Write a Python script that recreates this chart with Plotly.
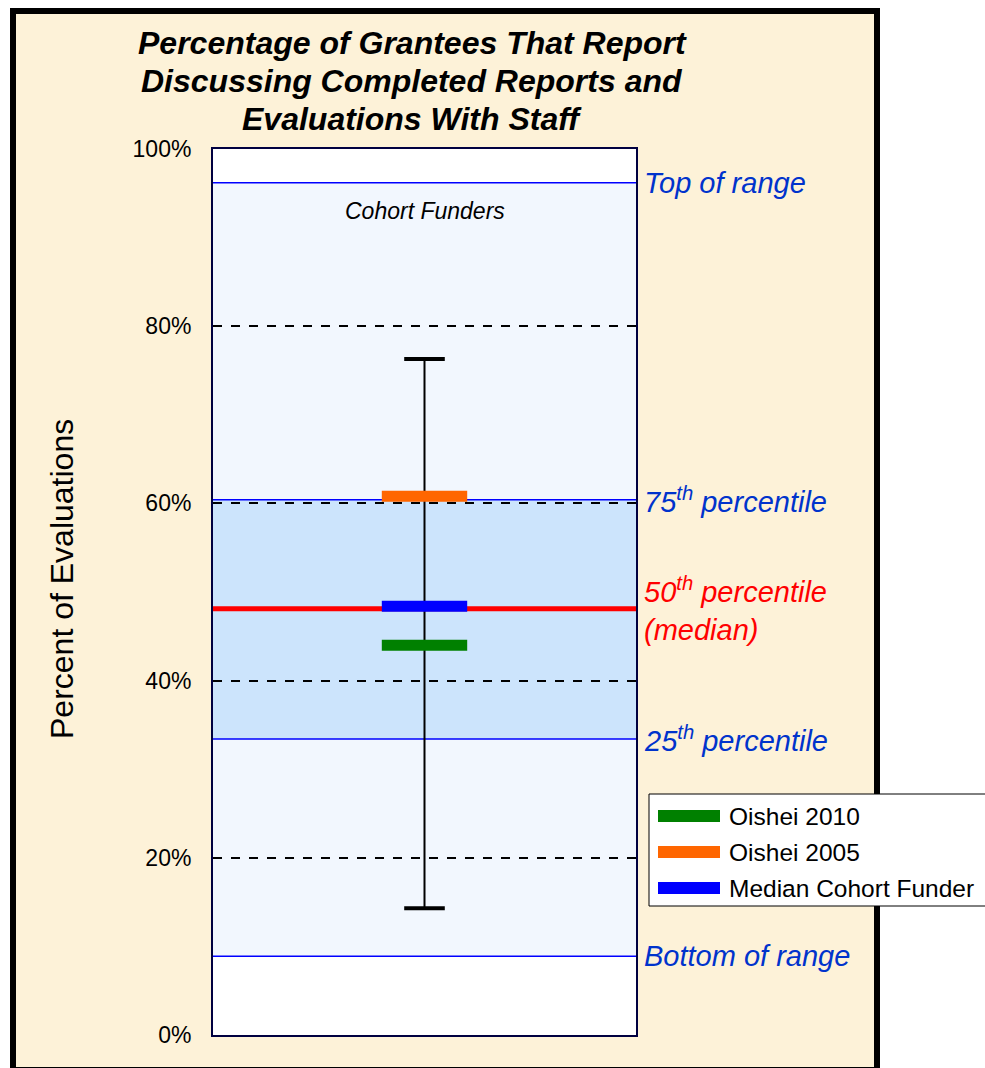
import plotly.graph_objects as go

# ============================================================
# Data (percent of evaluations)
# ============================================================

range_labels = ["Bottom of range", "25<sup>th</sup> percentile", "50<sup>th</sup> percentile<br>(median)",
                "75<sup>th</sup> percentile", "Top of range"]
range_values = [8.9, 33.4, 48.1, 60.4, 96.2]

series_names = ["Oishei 2010", "Oishei 2005", "Median Cohort Funder"]
series_values = [44.0, 60.8, 48.4]
series_colors = ["#008000", "#FF6600", "#0000FF"]

spread_low = 14.3
spread_high = 76.3

y_ticks = [0, 20, 40, 60, 80, 100]
y_ticktext = [f"{v}%" for v in y_ticks]

title_lines = ["Percentage of Grantees That Report", "Discussing Completed Reports and",
               "Evaluations With Staff"]

# ============================================================
# Layout geometry (pixels of the 985 x 1068 window)
# ============================================================

W, H = 985, 1068
PL, PR, PT, PB = 213, 636, 149, 1035   # plot area edges
FONT = "Liberation Sans, Arial, sans-serif"
LABEL_BLUE = "#0033CC"


def px_x(px):
    return (px - PL) / (PR - PL)


def px_y(py):
    return (PB - py) / (PB - PT)


fig = go.Figure()

# outer beige frame and white plot area (drawn first, underneath everything)
fig.add_shape(type="rect", xref="paper", yref="paper",
              x0=px_x(13), x1=px_x(877), y0=px_y(1070), y1=px_y(11),
              fillcolor="#FDF2D8", line=dict(color="black", width=6), layer="below")
fig.add_shape(type="rect", xref="paper", yref="paper", x0=0, x1=1, y0=0, y1=1,
              fillcolor="white", line_width=0, layer="below")

# band fills between range lines
bottom, p25, med, p75, top = range_values
for y0, y1, color in ((bottom, p25, "#F2F7FE"), (p25, p75, "#CCE4FC"), (p75, top, "#F2F7FE")):
    fig.add_shape(type="rect", xref="x domain", yref="y", x0=0, x1=1, y0=y0, y1=y1,
                  fillcolor=color, line_width=0, layer="below")

# range lines (as traces so the funder marks sit on top) + right-hand labels
for label, value in zip(range_labels, range_values):
    is_median = value == med
    fig.add_trace(go.Scatter(
        x=[-1, 1], y=[value, value], mode="lines", cliponaxis=False,
        line=dict(color="#FF0000" if is_median else "#0000FF", width=5 if is_median else 1.5),
        hoverinfo="skip", showlegend=False,
    ))
    fig.add_annotation(
        x=1, xref="paper", y=value, yref="y", xanchor="left", yanchor="middle", xshift=6,
        text=f"<i>{label}</i>", showarrow=False, align="left",
        font=dict(family=FONT, size=29, color="#FF0000" if is_median else LABEL_BLUE),
    )

# spread of cohort funders (whisker)
fig.add_trace(go.Scatter(
    x=[0, 0], y=[spread_low, spread_high], mode="lines",
    line=dict(color="black", width=2), hoverinfo="skip", showlegend=False,
))
fig.add_trace(go.Scatter(
    x=[0, 0], y=[spread_low, spread_high], mode="markers",
    marker=dict(symbol="line-ew", size=29, line=dict(color="black", width=4)),
    hoverinfo="skip", showlegend=False,
))

# funder markers
for name, value, color in zip(series_names, series_values, series_colors):
    fig.add_trace(go.Scatter(
        x=[0], y=[value], mode="markers", name=name,
        marker=dict(symbol="line-ew", size=61, line=dict(color=color, width=11)),
        showlegend=False,
    ))

# legend box drawn by hand (runs off the page, as in the original)
fig.add_shape(type="rect", xref="paper", yref="paper",
              x0=px_x(649), x1=px_x(1020), y0=px_y(906), y1=px_y(794),
              fillcolor="white", line=dict(color="black", width=1), layer="above")
for i, (name, color) in enumerate(zip(series_names, series_colors)):
    cy = 816 + i * 36
    fig.add_shape(type="line", xref="paper", yref="paper",
                  x0=px_x(658), x1=px_x(720), y0=px_y(cy), y1=px_y(cy),
                  line=dict(color=color, width=12), layer="above")
    fig.add_annotation(x=px_x(727), y=px_y(cy), xref="paper", yref="paper",
                       xanchor="left", yanchor="middle", text=name, showarrow=False,
                       font=dict(family=FONT, size=24.5, color="black"))

# title, axis label, inner label
for i, line in enumerate(title_lines):
    fig.add_annotation(
        x=px_x(412), y=px_y(43 + 38 * i), xref="paper", yref="paper",
        xanchor="center", yanchor="middle", text=f"<b><i>{line}</i></b>",
        showarrow=False, font=dict(family=FONT, size=32, color="black"),
    )
fig.add_annotation(
    x=px_x(62), y=px_y(579), xref="paper", yref="paper", xanchor="center", yanchor="middle",
    text="Percent of Evaluations", textangle=-90, showarrow=False,
    font=dict(family=FONT, size=32, color="black"),
)
fig.add_annotation(
    x=0.5, y=px_y(211), xref="paper", yref="paper", xanchor="center", yanchor="middle",
    text="<i>Cohort Funders</i>", showarrow=False,
    font=dict(family=FONT, size=23, color="black"),
)

fig.update_layout(
    width=W, height=H,
    margin=dict(l=PL, r=W - PR, t=PT, b=H - PB, pad=0),
    paper_bgcolor="white",
    plot_bgcolor="rgba(0,0,0,0)",
    font=dict(family=FONT, color="black"),
    showlegend=False,
)

fig.update_xaxes(range=[-1, 1], showticklabels=False, showgrid=False, zeroline=False,
                 showline=True, mirror=True, linecolor="#000040", linewidth=2, fixedrange=True)
fig.update_yaxes(
    range=[0, 100], tickmode="array", tickvals=y_ticks, ticktext=y_ticktext,
    ticks="outside", ticklen=15, tickcolor="rgba(0,0,0,0)",
    tickfont=dict(family=FONT, size=23, color="black"),
    showgrid=True, gridcolor="black", griddash="dash", gridwidth=1.5,
    zeroline=False, showline=True, mirror=True, linecolor="#000040", linewidth=2,
)

# drop the page's default body margin so the figure fills the window exactly
fig.write_html("out.html", config={"displayModeBar": False},
               post_script="document.body.style.margin = '0';")
